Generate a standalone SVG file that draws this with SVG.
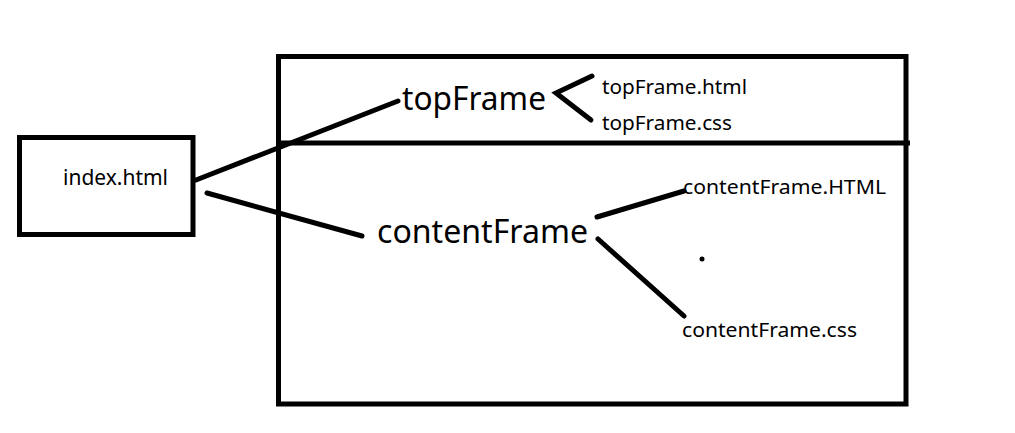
<svg xmlns="http://www.w3.org/2000/svg" width="1015" height="433" viewBox="0 0 1015 433">
<style>
.box{fill:none;stroke:#000;stroke-width:5}
.ln{stroke:#000;stroke-width:5;stroke-linecap:round;fill:none}
.t{font-family:"Noto Sans","Open Sans","Liberation Sans",sans-serif;fill:#000}
.s{font-size:20px}
.b{font-size:33px}
</style>
<rect width="1015" height="433" fill="#fff"/>
<g id="frame">
<rect class="box" x="278.5" y="56.5" width="627.5" height="347.5"/>
<line class="box" x1="276" y1="143" x2="910" y2="143"/>
</g>
<g id="index">
<rect class="box" x="19.5" y="137.5" width="173.5" height="97"/>
<text class="t" x="63" y="185" font-size="21" textLength="105" lengthAdjust="spacingAndGlyphs">index.html</text>
</g>
<g id="topFrame">
<text class="t b" x="402" y="110" textLength="144" lengthAdjust="spacingAndGlyphs">topFrame</text>
</g>
<g id="topFrameHtml">
<text class="t s" x="602" y="94" textLength="145" lengthAdjust="spacingAndGlyphs">topFrame.html</text>
</g>
<g id="topFrameCss">
<text class="t s" x="602" y="130" textLength="130" lengthAdjust="spacingAndGlyphs">topFrame.css</text>
</g>
<g id="contentFrame">
<text class="t b" x="377" y="243" textLength="211" lengthAdjust="spacingAndGlyphs">contentFrame</text>
</g>
<g id="contentFrameHtml">
<text class="t s" x="683" y="194" textLength="203" lengthAdjust="spacingAndGlyphs">contentFrame.HTML</text>
</g>
<g id="contentFrameCss">
<text class="t s" x="682" y="337" textLength="175" lengthAdjust="spacingAndGlyphs">contentFrame.css</text>
</g>
<g id="connectors">
<line class="ln" x1="196" y1="180" x2="398" y2="101"/>
<line class="ln" x1="207" y1="193" x2="362" y2="236"/>
<polyline class="ln" points="592,76 556,93 591,120"/>
<line class="ln" x1="597" y1="217" x2="684" y2="191"/>
<line class="ln" x1="598" y1="239" x2="684" y2="316"/>
<circle cx="702" cy="259" r="2.5" fill="#000"/>
</g>
</svg>
